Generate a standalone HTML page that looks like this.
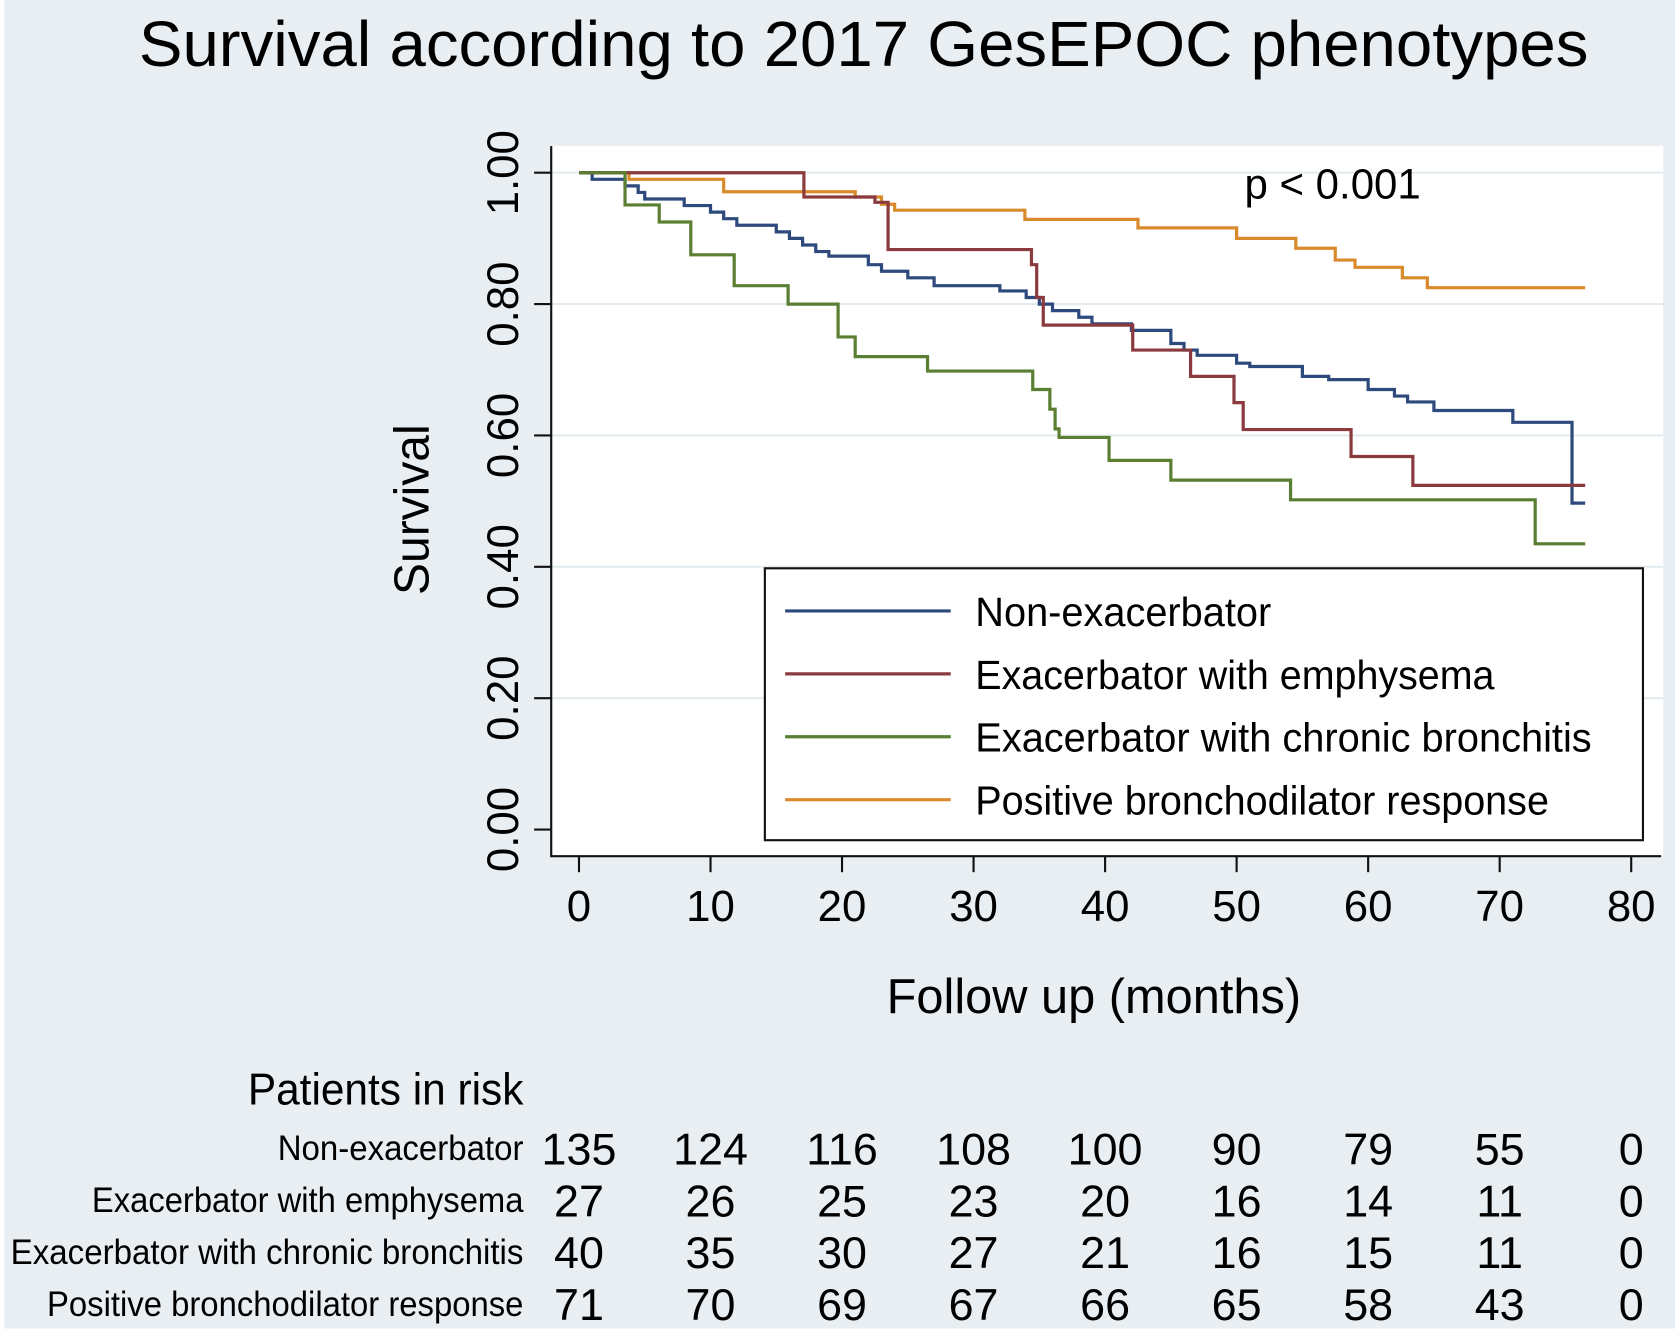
<!DOCTYPE html>
<html><head><meta charset="utf-8"><style>
html,body{margin:0;padding:0;background:#fff;}
svg{display:block;font-family:"Liberation Sans",Arial,sans-serif;}
</style></head><body>
<svg id="chart" width="1675" height="1336" viewBox="0 0 1568 1253" preserveAspectRatio="none" xmlns="http://www.w3.org/2000/svg">
<rect x="4" y="0" width="1564" height="1246" fill="#e8eef2"/>
<rect x="517" y="137" width="1040" height="666" fill="#ffffff"/>
<g id="grid"></g>
<g id="curves"></g>
<g id="axes"></g>
<text x="130" y="62" font-size="60" textLength="1357" lengthAdjust="spacingAndGlyphs">Survival according to 2017 GesEPOC phenotypes</text>
<text x="1165" y="186" font-size="40" textLength="165" lengthAdjust="spacingAndGlyphs">p &lt; 0.001</text>
<text transform="translate(401,478) rotate(-90)" text-anchor="middle" font-size="46" textLength="160" lengthAdjust="spacingAndGlyphs">Survival</text>
<text x="1024" y="950" text-anchor="middle" font-size="46" textLength="388" lengthAdjust="spacingAndGlyphs">Follow up (months)</text>
<g id="legend">
<rect x="716" y="533" width="822" height="255" fill="#fff" stroke="#111" stroke-width="2"/>
</g>
<text x="490" y="1036" text-anchor="end" font-size="42" textLength="258" lengthAdjust="spacingAndGlyphs">Patients in risk</text>
<g id="risk"></g>
</svg>
<script>
const seriesNames = ["Non-exacerbator","Exacerbator with emphysema","Exacerbator with chronic bronchitis","Positive bronchodilator response"];
const seriesColors = ["#2e4a7d","#8b3a3e","#5a7f32","#d98a2b"];
const xTicks = [0,10,20,30,40,50,60,70,80];
const yTicks = [0,0.2,0.4,0.6,0.8,1.0];
const yTickLabels = ["0.00","0.20","0.40","0.60","0.80","1.00"];
const endTime = 76.5;
const nonExacTimes = [0,1,3.5,4.5,5,8,10,11,12,15,16,17,18,19,22,23,25,27,32,34,35,36,38,39,42,45,46,47,50,51,55,57,60,62,63,65,71,75.5];
const nonExacSurv  = [1,0.99,0.98,0.97,0.96,0.95,0.94,0.93,0.92,0.91,0.90,0.89,0.88,0.873,0.86,0.85,0.84,0.828,0.82,0.81,0.80,0.79,0.78,0.77,0.76,0.74,0.73,0.722,0.71,0.705,0.69,0.685,0.67,0.66,0.651,0.638,0.62,0.497];
const emphTimes = [0,17.1,22.5,23.5,34.4,34.8,35.3,42.1,46.5,49.8,50.5,58.7,63.4];
const emphSurv  = [1,0.963,0.955,0.883,0.86,0.81,0.768,0.73,0.69,0.65,0.609,0.568,0.524];
const bronTimes = [0,3.5,6.1,8.5,11.8,15.9,19.7,21,26.5,34.5,35.8,36.2,36.5,40.3,45,54.1,72.7];
const bronSurv  = [1,0.951,0.925,0.875,0.828,0.80,0.75,0.72,0.698,0.67,0.64,0.61,0.597,0.562,0.532,0.502,0.435];
const pbrTimes = [0,3.8,11,21,23,24,33.9,42.5,50,54.5,57.5,59,62.6,64.5];
const pbrSurv  = [1,0.99,0.971,0.963,0.952,0.943,0.929,0.916,0.90,0.885,0.867,0.856,0.84,0.825];
const riskNon  = [135,124,116,108,100,90,79,55,0];
const riskEmph = [27,26,25,23,20,16,14,11,0];
const riskBron = [40,35,30,27,21,16,15,11,0];
const riskPbr  = [71,70,69,67,66,65,58,43,0];

const NS="http://www.w3.org/2000/svg";
const X = t => 542 + t*(1527-542)/80;
const Y = s => 778 - s*(778-162);
function mk(tag, parent){const e=document.createElementNS(NS,tag);document.getElementById(parent).appendChild(e);return e;}

yTicks.forEach((v,i)=>{
  if(v>0){
    const g=mk('line','grid');
    
    
    g.setAttribute('x1',517);g.setAttribute('x2',1557);g.setAttribute('y1',Y(v));g.setAttribute('y2',Y(v));
    g.setAttribute('stroke','#e4ebef');g.setAttribute('stroke-width',2);
  }
  const t=mk('line','axes');
  
  
  t.setAttribute('x1',500);t.setAttribute('x2',516);t.setAttribute('y1',Y(v));t.setAttribute('y2',Y(v));
  t.setAttribute('stroke','#111');t.setAttribute('stroke-width',2);
  const l=mk('text','axes');
  
  
  l.setAttribute('transform',`translate(485,${Y(v)}) rotate(-90)`);
  l.setAttribute('text-anchor','middle');l.setAttribute('font-size','42');
  l.setAttribute('textLength','80');l.setAttribute('lengthAdjust','spacingAndGlyphs');
  l.textContent=yTickLabels[i];
});
xTicks.forEach(v=>{
  const t=mk('line','axes');
  
  
  t.setAttribute('x1',X(v));t.setAttribute('x2',X(v));t.setAttribute('y1',803);t.setAttribute('y2',818);
  t.setAttribute('stroke','#111');t.setAttribute('stroke-width',2);
  const l=mk('text','axes');
  
  
  l.setAttribute('x',X(v));l.setAttribute('y',864);l.setAttribute('text-anchor','middle');l.setAttribute('font-size','41');
  l.textContent=v;
});
const ax=mk('path','axes');


ax.setAttribute('d','M516,137 V803 H1555');ax.setAttribute('fill','none');ax.setAttribute('stroke','#111');ax.setAttribute('stroke-width',2);

const allTimes=[nonExacTimes,emphTimes,bronTimes,pbrTimes];
const allSurv=[nonExacSurv,emphSurv,bronSurv,pbrSurv];
const curveNames=['curve-non-exacerbator','curve-emphysema','curve-chronic-bronchitis','curve-bronchodilator'];
[3,0,1,2].forEach(k=>{
  const ts=allTimes[k], ss=allSurv[k];
  let d=`M${X(ts[0])},${Y(ss[0])}`;
  for(let i=1;i<ts.length;i++){d+=` H${X(ts[i])} V${Y(ss[i])}`;}
  d+=` H${X(endTime)}`;
  const p=mk('path','curves');
  
  
  p.setAttribute('d',d);p.setAttribute('fill','none');p.setAttribute('stroke',seriesColors[k]);p.setAttribute('stroke-width',3);
});

const legW=[277,486,577,537];
seriesNames.forEach((n,i)=>{
  const y=573+i*59;
  const l=mk('line','legend');
  
  
  l.setAttribute('x1',735);l.setAttribute('x2',890);l.setAttribute('y1',y);l.setAttribute('y2',y);
  l.setAttribute('stroke',seriesColors[i]);l.setAttribute('stroke-width',3);
  const t=mk('text','legend');
  
  
  t.setAttribute('x',913);t.setAttribute('y',y+14);t.setAttribute('font-size','38');
  t.setAttribute('textLength',legW[i]);t.setAttribute('lengthAdjust','spacingAndGlyphs');
  t.textContent=n;
});

const risks=[riskNon,riskEmph,riskBron,riskPbr];
const rowW=[230,404,480,446];
risks.forEach((r,i)=>{
  const y=1088+i*48.7;
  const lab=mk('text','risk');
  
  
  lab.setAttribute('x',490);lab.setAttribute('y',y);lab.setAttribute('text-anchor','end');lab.setAttribute('font-size','33');
  lab.setAttribute('textLength',rowW[i]);lab.setAttribute('lengthAdjust','spacingAndGlyphs');
  lab.textContent=seriesNames[i];
  r.forEach((v,j)=>{
    const t=mk('text','risk');
    
    
    t.setAttribute('x',X(xTicks[j]));t.setAttribute('y',y+4);t.setAttribute('text-anchor','middle');t.setAttribute('font-size','42');
    t.textContent=v;
  });
});
</script>
</body></html>
